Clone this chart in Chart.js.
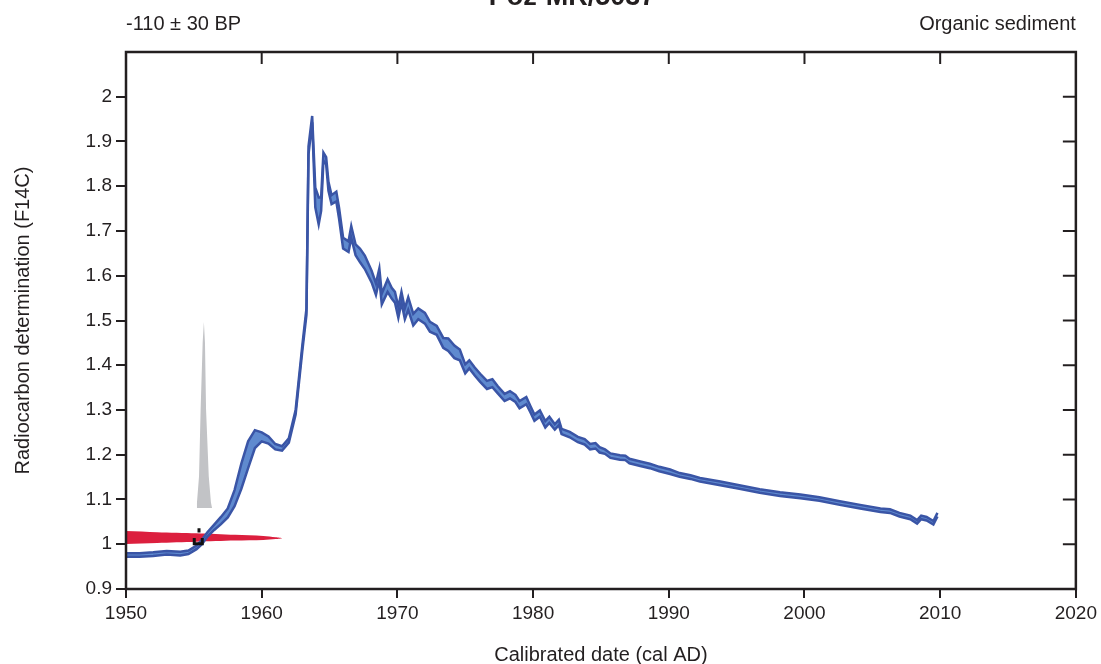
<!DOCTYPE html>
<html>
<head>
<meta charset="utf-8">
<script src="https://cdn.jsdelivr.net/npm/chart.js@4.4.1/dist/chart.umd.min.js"></script>
<style>
  html, body { margin: 0; padding: 0; background: #fff; }
  #wrap { width: 1101px; height: 664px; }
</style>
</head>
<body>
<div id="wrap"><canvas id="calPlot"></canvas></div>
<script>
// calibration curve (cal AD, F14C centre, 1 sigma half width)
const curveYears = [1950.0, 1951.0, 1952.0, 1953.0, 1954.0, 1954.6, 1955.2, 1955.6, 1956.0, 1956.5,
  1957.0, 1957.5, 1958.0, 1958.5, 1959.0, 1959.5, 1960.0, 1960.5, 1961.0, 1961.5,
  1962.0, 1962.5, 1963.0, 1963.3, 1963.45, 1963.72, 1963.95, 1964.2, 1964.38, 1964.55,
  1964.75, 1964.92, 1965.15, 1965.5, 1965.7, 1966.0, 1966.4, 1966.6, 1966.92, 1967.25,
  1967.6, 1968.1, 1968.42, 1968.67, 1968.85, 1969.28, 1969.58, 1969.82, 1970.07, 1970.3,
  1970.55, 1970.8, 1971.17, 1971.54, 1972.03, 1972.4, 1972.9, 1973.38, 1973.75, 1974.2,
  1974.6, 1975.0, 1975.3, 1975.7, 1976.1, 1976.6, 1977.0, 1977.4, 1977.9, 1978.3,
  1978.7, 1979.0, 1979.5, 1979.8, 1980.1, 1980.5, 1980.9, 1981.2, 1981.6, 1981.9,
  1982.1, 1982.7, 1983.3, 1983.8, 1984.2, 1984.6, 1984.9, 1985.3, 1985.7, 1986.4,
  1986.8, 1987.1, 1987.9, 1988.6, 1989.3, 1990.1, 1990.8, 1991.6, 1992.3, 1993.8,
  1995.2, 1996.7, 1998.2, 1999.7, 2001.1, 2002.6, 2004.1, 2005.6, 2006.3, 2007.0,
  2007.8, 2008.3, 2008.6, 2009.0, 2009.5, 2009.8];
const curveF14C = [0.976, 0.976, 0.978, 0.981, 0.979, 0.982, 0.993, 1.005, 1.022, 1.038,
  1.053, 1.070, 1.103, 1.152, 1.200, 1.235, 1.240, 1.233, 1.218, 1.214,
  1.232, 1.295, 1.440, 1.520, 1.880, 1.950, 1.775, 1.745, 1.760, 1.866,
  1.857, 1.800, 1.770, 1.777, 1.740, 1.673, 1.665, 1.698, 1.658, 1.645,
  1.630, 1.598, 1.570, 1.604, 1.548, 1.578, 1.561, 1.552, 1.518, 1.552,
  1.515, 1.538, 1.502, 1.515, 1.505, 1.486, 1.478, 1.450, 1.446, 1.430,
  1.423, 1.392, 1.402, 1.386, 1.372, 1.356, 1.360, 1.345, 1.328, 1.334,
  1.326, 1.312, 1.321, 1.302, 1.283, 1.292, 1.268, 1.278, 1.262, 1.272,
  1.252, 1.245, 1.234, 1.229, 1.218, 1.220, 1.211, 1.207, 1.198, 1.194,
  1.193, 1.186, 1.180, 1.175, 1.168, 1.162, 1.155, 1.150, 1.144, 1.136,
  1.128, 1.119, 1.112, 1.107, 1.101, 1.092, 1.084, 1.076, 1.074, 1.066,
  1.060, 1.050, 1.060, 1.057, 1.048, 1.066];
const curveSigma = [0.004, 0.004, 0.004, 0.004, 0.004, 0.004, 0.004, 0.005, 0.005, 0.006,
  0.008, 0.010, 0.018, 0.028, 0.030, 0.020, 0.010, 0.008, 0.006, 0.005,
  0.005, 0.005, 0.006, 0.007, 0.009, 0.007, 0.022, 0.030, 0.015, 0.009,
  0.008, 0.010, 0.010, 0.011, 0.012, 0.012, 0.012, 0.013, 0.012, 0.015,
  0.015, 0.013, 0.013, 0.012, 0.012, 0.014, 0.012, 0.012, 0.012, 0.012,
  0.012, 0.014, 0.013, 0.012, 0.012, 0.011, 0.010, 0.011, 0.014, 0.014,
  0.012, 0.010, 0.009, 0.009, 0.009, 0.009, 0.009, 0.008, 0.008, 0.008,
  0.008, 0.008, 0.008, 0.007, 0.007, 0.007, 0.007, 0.007, 0.006, 0.006,
  0.006, 0.006, 0.006, 0.006, 0.006, 0.006, 0.006, 0.005, 0.005, 0.005,
  0.005, 0.005, 0.005, 0.005, 0.005, 0.005, 0.004, 0.004, 0.004, 0.004,
  0.004, 0.004, 0.004, 0.004, 0.004, 0.004, 0.004, 0.004, 0.004, 0.004,
  0.004, 0.004, 0.004, 0.004, 0.004, 0.004];

// measured value -110 +/- 30 BP as F14C distribution (outline, relative probability)
const measF14C = [1.0297, 1.0270, 1.0245, 1.0210, 1.0185, 1.0155, 1.0135,
  1.0115, 1.0095, 1.0082, 1.0057, 1.0030, 1.0006];
const measProb = [0, 0.20, 0.45, 0.70, 0.88, 0.96, 1.00,
  0.96, 0.88, 0.70, 0.45, 0.20, 0];

// calibrated date distribution
const calYears = [1955.16, 1955.23, 1955.38, 1955.50, 1955.65, 1955.74, 1955.82, 1955.90, 1956.10, 1956.26, 1956.34];
const calProb = [0, 0.03, 0.17, 0.53, 0.89, 1.00, 0.89, 0.53, 0.17, 0.03, 0];

// range bracket
const rangeYears = [1955.38, 1955.38, null, 1955.03, 1955.03, 1955.62, 1955.62];
const rangeF14C = [1.036, 1.026, null, 1.014, 1.001, 1.001, 1.014];

const xTicks = [1950, 1960, 1970, 1980, 1990, 2000, 2010, 2020];
const yTickMax = 2.0;

const titleText = 'Poz-MR/5037';
const leftNote = '-110 \u00b1 30 BP';
const rightNote = 'Organic sediment';

const ink = '#231f20';
const fontName = '"Liberation Sans", Arial, sans-serif';

function pts(xs, ys) {
  return xs.map((x, i) => ({ x: x, y: ys[i] }));
}

const upperPts = curveYears.map((x, i) => ({ x: x, y: curveF14C[i] + curveSigma[i] }));
const lowerPts = curveYears.map((x, i) => ({ x: x, y: curveF14C[i] - curveSigma[i] }));

// frame, inward ticks and header texts
const framePlugin = {
  id: 'frame',
  afterDraw(chart) {
    const { ctx, chartArea: a, scales } = chart;
    ctx.save();
    ctx.strokeStyle = ink;
    ctx.lineWidth = 2;
    scales.x.ticks.forEach(t => {
      if (t.value <= 1950 || t.value >= 2020) return;
      const px = scales.x.getPixelForValue(t.value);
      ctx.beginPath(); ctx.moveTo(px, a.top); ctx.lineTo(px, a.top + 12); ctx.stroke();
    });
    scales.y.ticks.forEach(t => {
      if (t.value > yTickMax + 0.05) return;
      const py = scales.y.getPixelForValue(t.value);
      ctx.beginPath(); ctx.moveTo(a.right, py); ctx.lineTo(a.right - 13, py); ctx.stroke();
    });
    ctx.lineWidth = 2.5;
    ctx.strokeRect(a.left, a.top, a.right - a.left, a.bottom - a.top);

    ctx.fillStyle = ink;
    ctx.font = '20px ' + fontName;
    ctx.textBaseline = 'alphabetic';
    ctx.textAlign = 'left';
    ctx.fillText(leftNote, a.left, 30);
    ctx.textAlign = 'right';
    ctx.fillText(rightNote, a.right, 30);
    ctx.font = 'bold 27px ' + fontName;
    ctx.textAlign = 'center';
    ctx.fillText(titleText, 572, 5);
    ctx.restore();
  }
};

const ctx = document.getElementById('calPlot');
new Chart(ctx, {
  type: 'line',
  data: {
    datasets: [
      {
        data: pts(rangeYears, rangeF14C),
        borderColor: '#111',
        borderWidth: 3,
        pointRadius: 0,
        spanGaps: false,
        fill: false,
        order: 0
      },
      {
        data: upperPts,
        borderColor: '#3a55a6',
        borderWidth: 2.5,
        pointRadius: 0,
        tension: 0,
        fill: false,
        order: 1
      },
      {
        data: lowerPts,
        borderColor: '#3a55a6',
        backgroundColor: '#5f8acf',
        borderWidth: 2.5,
        pointRadius: 0,
        tension: 0,
        fill: '-1',
        order: 2
      },
      {
        data: pts(measProb, measF14C),
        xAxisID: 'xProb',
        borderColor: '#dc1f3e',
        backgroundColor: '#dc1f3e',
        borderWidth: 0,
        pointRadius: 0,
        tension: 0.3,
        fill: 'shape',
        order: 3
      },
      {
        data: pts(calYears, calProb),
        yAxisID: 'yProb',
        borderColor: '#c2c3c6',
        backgroundColor: '#c2c3c6',
        borderWidth: 0,
        pointRadius: 0,
        fill: { target: { value: 0 } },
        order: 4
      }
    ]
  },
  options: {
    responsive: true,
    maintainAspectRatio: false,
    animation: false,
    events: [],
    layout: { padding: { top: 52, right: 25, left: 0, bottom: 0 } },
    plugins: {
      legend: { display: false },
      tooltip: { enabled: false }
    },
    scales: {
      x: {
        type: 'linear',
        position: 'bottom',
        min: 1950,
        max: 2020,
        afterBuildTicks: s => { s.ticks = xTicks.map(v => ({ value: v })); },
        afterFit: s => { s.height = 75; },
        border: { display: false },
        grid: {
          drawOnChartArea: false,
          drawTicks: true,
          tickLength: 9,
          color: ink,
          lineWidth: 2
        },
        ticks: {
          color: ink,
          padding: 4,
          maxRotation: 0,
          font: { family: fontName, size: 19 },
          callback: v => String(v)
        },
        title: {
          display: true,
          text: 'Calibrated date (cal AD)',
          color: ink,
          padding: { top: 0, bottom: -3 },
          font: { family: fontName, size: 20 }
        }
      },
      y: {
        type: 'linear',
        min: 0.9,
        max: 2.1,
        afterFit: s => { s.width = 126; },
        border: { display: false },
        grid: {
          drawOnChartArea: false,
          drawTicks: true,
          tickLength: 10,
          color: c => (c.tick && c.tick.value > yTickMax + 0.05 ? 'rgba(0,0,0,0)' : ink),
          lineWidth: 2
        },
        ticks: {
          stepSize: 0.1,
          color: ink,
          padding: 4,
          font: { family: fontName, size: 19 },
          callback: v => (v > yTickMax + 0.05 ? '' : String(Math.round(v * 10) / 10))
        },
        title: {
          display: true,
          text: 'Radiocarbon determination (F14C)',
          color: ink,
          padding: { top: 11, bottom: 0 },
          font: { family: fontName, size: 20 }
        }
      },
      xProb: {
        type: 'linear',
        display: false,
        min: 0,
        max: 6.09
      },
      yProb: {
        type: 'linear',
        display: false,
        min: -0.4355,
        max: 2.452
      }
    }
  },
  plugins: [framePlugin]
});
</script>
</body>
</html>
